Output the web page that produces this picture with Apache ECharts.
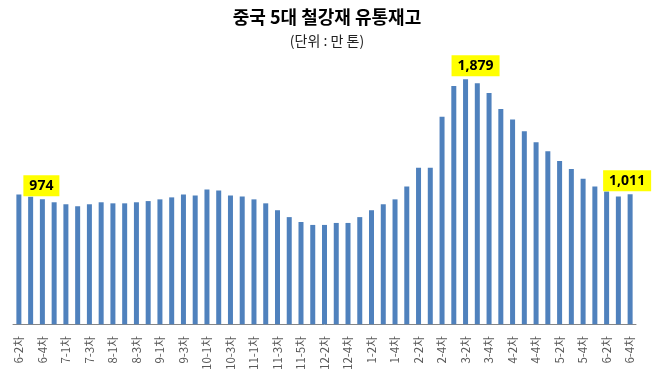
<!DOCTYPE html>
<html>
<head>
<meta charset="utf-8">
<script src="https://cdn.jsdelivr.net/npm/echarts@6/dist/echarts.min.js"></script>
<style>
html,body{margin:0;padding:0;background:#fff;}
#chart{width:654px;height:373px;}
</style>
</head>
<body>
<div id="chart"></div>
<script>
var categories = [
  '6-2차','6-3차','6-4차','6-5차',
  '7-1차','7-2차','7-3차','7-4차',
  '8-1차','8-2차','8-3차','8-4차',
  '9-1차','9-2차','9-3차','9-4차',
  '10-1차','10-2차','10-3차','10-4차',
  '11-1차','11-2차','11-3차','11-4차','11-5차',
  '12-1차','12-2차','12-3차','12-4차',
  '1-1차','1-2차','1-3차','1-4차',
  '2-1차','2-2차','2-3차','2-4차',
  '3-1차','3-2차','3-3차','3-4차',
  '4-1차','4-2차','4-3차','4-4차',
  '5-1차','5-2차','5-3차','5-4차',
  '6-1차','6-2차','6-3차','6-4차'
];
var inventory = [
  1010, 993, 974, 951, 936, 921, 936, 951, 943, 943,
  951, 960, 973, 988, 1010, 1003, 1047, 1040, 1003, 995,
  973, 943, 891, 839, 802, 780, 780, 795, 795, 839,
  891, 936, 973, 1070, 1211, 1211, 1597, 1829, 1879, 1849,
  1775, 1656, 1575, 1488, 1404, 1337, 1263, 1203, 1129, 1070,
  1032, 995, 1011
];
var highlightIndex = [2, 38, 52];

var labelOffsets = {2: [-1, 0], 38: [10, 0], 52: [-3, 0]};

var seriesData = inventory.map(function (v, i) {
  if (highlightIndex.indexOf(i) >= 0) {
    return {
      value: v,
      label: {
        show: true,
        position: 'top',
        distance: 3,
        offset: labelOffsets[i],
        formatter: function (p) { return p.value.toLocaleString('en-US'); },
        backgroundColor: '#FFFF00',
        color: '#000',
        fontWeight: 'bold',
        fontSize: 14,
        fontFamily: 'Noto Sans, Arial, sans-serif',
        padding: [4, 6, 3, 6]
      }
    };
  }
  return v;
});

var chart = echarts.init(document.getElementById('chart'));
chart.setOption({
  backgroundColor: '#fff',
  animation: false,
  title: [{
    text: '중국 5대 철강재 유통재고',
    left: 'center',
    top: 3,
    textStyle: {fontSize: 18, fontWeight: 'bold', color: '#000', fontFamily: 'Noto Sans CJK KR'}
  }, {
    text: '(단위 : 만 톤)',
    left: 'center',
    top: 29,
    textStyle: {fontSize: 14, fontWeight: 'normal', color: '#222', fontFamily: 'Noto Sans CJK KR'}
  }],
  grid: {left: 13, width: 623, top: 40, bottom: 44, containLabel: false},
  xAxis: {
    type: 'category',
    data: categories,
    axisLine: {lineStyle: {color: '#868686', width: 1}},
    axisTick: {show: false},
    axisLabel: {
      interval: 1,
      rotate: 90,
      margin: 12,
      fontSize: 11.5,
      color: '#595959',
      fontFamily: 'Noto Sans CJK KR',
      padding: [5, 0, 0, 0]
    }
  },
  yAxis: {
    type: 'value',
    min: 30,
    max: 2176,
    show: false,
    splitLine: {show: false}
  },
  series: [{
    type: 'bar',
    data: seriesData,
    barWidth: 5,
    itemStyle: {color: '#4F81BD'}
  }]
});
</script>
</body>
</html>
